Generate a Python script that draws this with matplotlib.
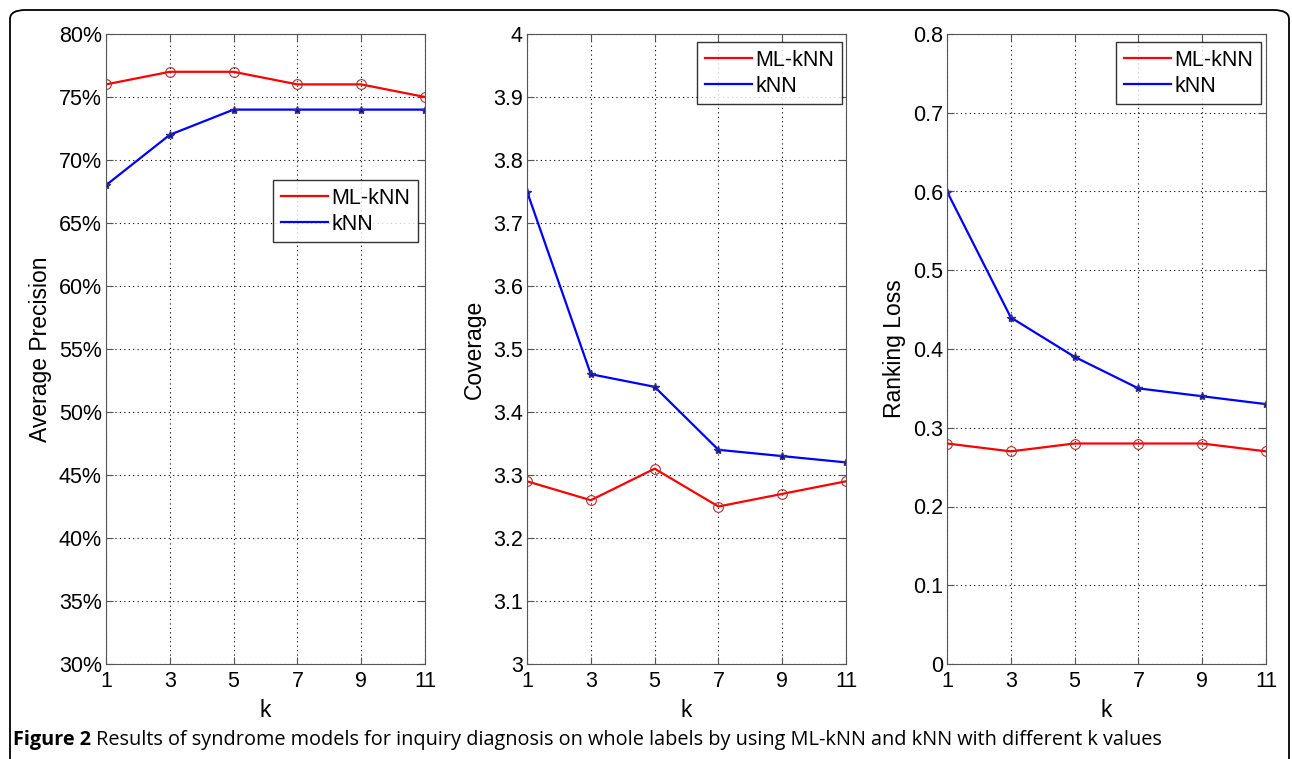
import numpy as np
import matplotlib.pyplot as plt
from matplotlib.patches import FancyBboxPatch
from matplotlib.ticker import FuncFormatter

plt.rcParams['font.family'] = ['Liberation Sans', 'DejaVu Sans']

k = [1, 3, 5, 7, 9, 11]

# average precision (%)
ap_ml = [76, 77, 77, 76, 76, 75]
ap_knn = [68, 72, 74, 74, 74, 74]

# coverage
cov_ml = [3.29, 3.26, 3.31, 3.25, 3.27, 3.29]
cov_knn = [3.75, 3.46, 3.44, 3.34, 3.33, 3.32]

# ranking loss
rl_ml = [0.28, 0.27, 0.28, 0.28, 0.28, 0.27]
rl_knn = [0.60, 0.44, 0.39, 0.35, 0.34, 0.33]

W, H = 1292, 759
fig = plt.figure(figsize=(W / 100, H / 100), dpi=100)

# rounded frame around the figure
frame = FancyBboxPatch((10 / W, -20 / H), 1279 / W, 769 / H,
                       boxstyle='round,pad=0,rounding_size=0.012',
                       transform=fig.transFigure, fill=False,
                       edgecolor='black', linewidth=1.3)
fig.patches.append(frame)

panels = [
    (106, ap_ml, ap_knn, 'Average Precision', (30, 80), np.arange(30, 81, 5), (273, 180)),
    (527, cov_ml, cov_knn, 'Coverage', (3, 4), np.arange(3, 4.01, 0.1), (697, 42)),
    (947, rl_ml, rl_knn, 'Ranking Loss', (0, 0.8), np.arange(0, 0.81, 0.1), (1116, 42)),
]

top, bottom = 34, 664
for i, (left, ml, knn, ylab, ylim, yt, leg) in enumerate(panels):
    ax = fig.add_axes([left / W, 1 - bottom / H, 319 / W, (bottom - top) / H])
    ax.plot(k, ml, '-', color='red', lw=1.6, marker='o', ms=7, mfc='none',
            mec='#b03030', mew=0.8, label='ML-kNN')
    ax.plot(k, knn, '-', color='blue', lw=1.6, marker='*', ms=6,
            mec='#303080', label='kNN')
    ax.set_xlim(1, 11)
    ax.set_ylim(*ylim)
    ax.set_xticks(k)
    ax.set_yticks(yt)
    if i == 0:
        ax.yaxis.set_major_formatter(FuncFormatter(lambda v, p: '%d%%' % round(v)))
    else:
        ax.yaxis.set_major_formatter(FuncFormatter(lambda v, p: ('%g' % round(v, 1))))
    ax.grid(True, linestyle=(0, (1, 3)), color='black', lw=0.8)
    ax.tick_params(direction='in', length=5, labelsize=15.5, top=True, right=True,
                   color='#555555', pad=3)
    ax.tick_params(axis='x', pad=5)
    for s in ax.spines.values():
        s.set_color('#555555')
    ax.set_xlabel('k', fontsize=16.5, labelpad=5)
    ax.set_ylabel(ylab, fontsize=16.5, labelpad=5)
    lx, ly = leg
    lg = ax.legend(loc='upper left', fontsize=15.5, fancybox=False, edgecolor='black',
                   handlelength=2.2, handletextpad=0.15, borderpad=0.35,
                   labelspacing=0.25, borderaxespad=0,
                   bbox_to_anchor=(lx / W, 1 - ly / H), bbox_transform=fig.transFigure)
    lg.get_frame().set_linewidth(1.0)
    for h in lg.get_lines():
        h.set_marker('')

# caption: bold "Figure 2" then plain text
cap_font = ['Open Sans', 'DejaVu Sans']
t1 = fig.text(13 / W, 1 - 740 / H, 'Figure 2', fontsize=14.3, fontweight='bold',
              va='center', family=cap_font)
fig.canvas.draw()
bb = t1.get_window_extent()
fig.text((bb.x1 + 5) / W, 1 - 740 / H,
         'Results of syndrome models for inquiry diagnosis on whole labels by using ML-kNN and kNN with different k values',
         fontsize=14.3, va='center', family=cap_font)

fig.savefig('out.png', dpi=100)
